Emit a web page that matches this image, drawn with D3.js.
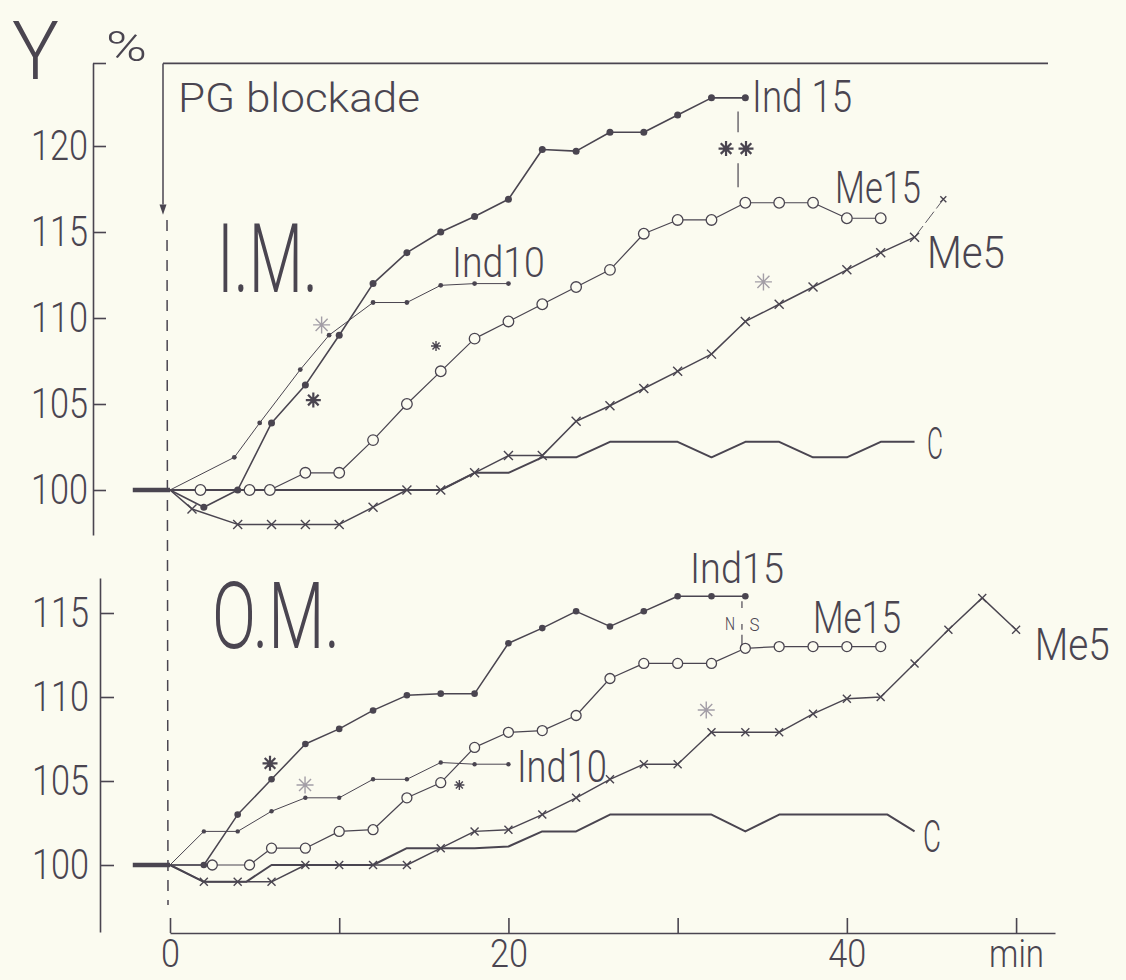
<!DOCTYPE html>
<html><head><meta charset="utf-8">
<script src="https://cdn.jsdelivr.net/npm/d3@7"></script>
<style>
html,body{margin:0;padding:0;background:#fbfbf0;}
svg{display:block;}
text{font-family:Roboto,"DejaVu Sans",sans-serif;font-weight:300;fill:#4a4550;}
</style></head><body>
<svg id="chart" width="1126" height="980"></svg>
<script>
// ---------- data ----------
const xTickValues = [0, 10, 20, 30, 40, 50];
const xTickLabels = ["0", "", "20", "", "40", "min"];
const imTicks = [100, 105, 110, 115, 120];
const omTicks = [100, 105, 110, 115];

// pre-blockade baseline
const baseT = [-2.2, 0];
const baseV = [100, 100];

// I.M. panel
const imInd15T = [0, 2, 4, 6, 8, 10, 12, 14, 16, 18, 20, 22, 24, 26, 28, 30, 32, 34];
const imInd15V = [100, 99, 100, 103.9, 106.1, 109, 112, 113.8, 115, 115.9, 116.9, 119.8, 119.7, 120.8, 120.8, 121.8, 122.8, 122.8];
const imInd10T = [0, 3.8, 5.3, 7.7, 9.4, 12, 14, 16, 18, 20];
const imInd10V = [100, 101.9, 103.9, 107, 109, 110.9, 110.9, 111.9, 112, 112];
const imMe15T = [0, 1.8, 4.7, 5.9, 8, 10, 12, 14, 16, 18, 20, 22, 24, 26, 28, 30, 32, 34, 36, 38, 40, 42];
const imMe15V = [100, 100, 100, 100, 101, 101, 102.9, 105, 106.9, 108.8, 109.8, 110.8, 111.8, 112.8, 114.9, 115.7, 115.7, 116.7, 116.7, 116.7, 115.8, 115.8];
const imMe5T = [0, 1.3, 4, 6, 8, 10, 12, 14, 16, 18, 20, 22, 24, 26, 28, 30, 32, 34, 36, 38, 40, 42, 44];
const imMe5V = [100, 98.9, 98, 98, 98, 98, 99, 100, 100, 101, 102, 102, 104, 104.9, 105.9, 106.9, 107.9, 109.8, 110.8, 111.8, 112.8, 113.8, 114.7];
const imMe5ExtT = [44, 45.7];
const imMe5ExtV = [114.7, 116.9];
const imCT = [0, 16, 18, 20, 22, 24, 26, 30, 32, 34, 36, 38, 40, 42, 44];
const imCV = [100, 100, 101, 101, 101.9, 101.9, 102.8, 102.8, 101.9, 102.8, 102.8, 101.9, 101.9, 102.8, 102.8];
const imStarT = [8.96, 8.47, 15.72, 35.07, 32.86, 34.04];
const imStarV = [109.6, 105.23, 108.37, 112.1, 119.85, 119.85];
const imStarTone = ["light", "dark", "small", "light", "dark", "dark"];

// O.M. panel
const omInd15T = [0, 2, 4, 6, 8, 10, 12, 14, 16, 18, 20, 22, 24, 26, 28, 30, 32, 34];
const omInd15V = [100, 100, 103, 105.1, 107.2, 108.1, 109.2, 110.1, 110.2, 110.2, 113.2, 114.1, 115.1, 114.2, 115.1, 116, 116, 116];
const omInd10T = [0, 2, 4, 6, 8, 10, 12, 14, 16, 18, 20];
const omInd10V = [100, 102, 102, 103.2, 104, 104, 105.1, 105.1, 106.1, 106, 106];
const omMe15T = [0, 2.5, 4.7, 6, 8, 10, 12, 14, 16, 18, 20, 22, 24, 26, 28, 30, 32, 34, 36, 38, 40, 42];
const omMe15V = [100, 100, 100, 101, 101, 102, 102.1, 104, 104.9, 107, 107.9, 108, 108.9, 111.1, 112, 112, 112, 112.9, 113, 113, 113, 113];
const omMe5T = [0, 2, 4, 6, 8, 10, 12, 14, 16, 18, 20, 22, 24, 26, 28, 30, 32, 34, 36, 38, 40, 42, 44, 46, 48, 50];
const omMe5V = [100, 99, 99, 99, 100, 100, 100, 100, 101, 102, 102.1, 103, 104, 105.1, 106, 106, 107.9, 107.9, 107.9, 109, 109.9, 110, 112, 114, 115.9, 114];
const omCT = [0, 2, 4.5, 6, 8, 10, 12, 14, 16, 18, 20, 22, 24, 26, 28, 30, 32, 34, 36, 38, 40, 42.4, 44];
const omCV = [100, 99, 99, 100, 100, 100, 100, 101, 101, 101, 101.1, 102, 102, 103, 103, 103, 103, 102, 103, 103, 103, 103, 102];
const omStarT = [5.91, 7.98, 17.1, 31.69];
const omStarV = [106.05, 104.76, 104.76, 109.23];
const omStarTone = ["dark", "light", "small", "light"];

// ---------- drawing ----------
const ink = "#4a4550", lightInk = "#a39ea6", bg = "#fbfbf0";
const svg = d3.select("#chart");
svg.append("rect").attr("width", 1126).attr("height", 980).attr("fill", bg);

const x = d3.scaleLinear().domain([0, 52.3]).range([170, 1055]);
const yIM = d3.scaleLinear().domain([100 - 45 / 17.2, 100 + 427 / 17.2]).range([535, 63]);
const yOM = d3.scaleLinear().domain([100 - 67 / 16.8, 100 + 287 / 16.8]).range([932, 578]);

function txt(g, px, py, s, size, len, weight) {
  const t = g.append("text").attr("x", px).attr("y", py).attr("font-size", size).text(s);
  if (len) t.attr("textLength", len).attr("lengthAdjust", "spacingAndGlyphs");
  if (weight) t.attr("font-weight", weight);
  return t;
}
function styleAxis(g, size) {
  g.attr("font-size", null).attr("font-family", null).attr("color", ink);
  g.select(".domain").attr("stroke-width", 1.6);
  g.selectAll(".tick line").attr("stroke-width", 1.6);
  g.selectAll(".tick text").attr("font-size", size)
    .each(function () {
      const s = this.textContent;
      if (s) d3.select(this).attr("textLength", s === "min" ? 55 : s.length * 19).attr("lengthAdjust", "spacingAndGlyphs");
    });
}

// y axes
const gIM = svg.append("g").attr("transform", "translate(93,0)")
  .call(d3.axisLeft(yIM).tickValues([...imTicks, yIM.domain()[1]])
    .tickFormat(d => imTicks.includes(d) ? String(d) : "")
    .tickSizeInner(-13).tickSizeOuter(0).tickPadding(5));
styleAxis(gIM, 42);
const gOM = svg.append("g").attr("transform", "translate(100,0)")
  .call(d3.axisLeft(yOM).tickValues(omTicks).tickFormat(d => String(d))
    .tickSizeInner(-14).tickSizeOuter(0).tickPadding(11));
styleAxis(gOM, 42);
// x axis
const gX = svg.append("g").attr("transform", "translate(0,933)")
  .call(d3.axisBottom(x).tickValues(xTickValues).tickFormat((d, i) => xTickLabels[i])
    .tickSizeInner(-15).tickSizeOuter(0).tickPadding(6));
styleAxis(gX, 39);

// titles
txt(svg, 12, 79, "Y", 82, 47, 400);
txt(svg, 106, 61, "%", 42, 41, 300);
txt(svg, 178, 112, "PG blockade", 41, 242, 300);
txt(svg, 217, 292, "I.M.", 96, 101, 400);
txt(svg, 212, 648, "O.M.", 92, 128, 400);

// PG blockade frame + arrow + dashed line
svg.append("path").attr("d", `M${x(0) - 7},${yIM(124.8)}H1048`).attr("stroke", ink).attr("stroke-width", 1.8).attr("fill", "none");
svg.append("path").attr("d", `M${x(0) - 7},${yIM(124.8)}V${yIM(116.6)}`).attr("stroke", ink).attr("stroke-width", 1.5).attr("fill", "none");
svg.append("path").attr("d", `M${x(0) - 10.5},${yIM(116.6)}L${x(0) - 3.5},${yIM(116.6)}L${x(0) - 7},${yIM(116.0)}Z`).attr("fill", ink);
svg.append("line").attr("x1", x(0) - 3).attr("x2", x(0) - 2).attr("y1", yIM(115.7)).attr("y2", 905)
  .attr("stroke", ink).attr("stroke-width", 1.5).attr("stroke-dasharray", "11,9");

function drawPanel(y, series, starT, starV, starTone) {
  const g = svg.append("g");
  const line = d3.line().x(d => x(d[0])).y(d => y(d[1]));
  // baseline bar
  g.append("path").attr("d", line(d3.zip(baseT, baseV))).attr("stroke", ink).attr("stroke-width", 4.5).attr("fill", "none");
  series.forEach(s => {
    const pts = d3.zip(s.t, s.v);
    g.append("path").attr("d", line(pts)).attr("fill", "none").attr("stroke", ink)
      .attr("stroke-width", s.sw).attr("stroke-linejoin", "round").attr("stroke-dasharray", s.dash || null);
    const mk = pts.slice(1);
    if (s.mark === "dot") {
      g.selectAll(null).data(mk).join("circle").attr("cx", d => x(d[0])).attr("cy", d => y(d[1]))
        .attr("r", s.r).attr("fill", ink);
    } else if (s.mark === "ring") {
      g.selectAll(null).data(mk).join("circle").attr("cx", d => x(d[0])).attr("cy", d => y(d[1]))
        .attr("r", s.r).attr("fill", bg).attr("stroke", ink).attr("stroke-width", 1.3);
    } else if (s.mark === "cross") {
      const r = s.r;
      g.selectAll(null).data(mk).join("path")
        .attr("d", d => `M${x(d[0]) - r},${y(d[1]) - r}L${x(d[0]) + r},${y(d[1]) + r}M${x(d[0]) - r},${y(d[1]) + r}L${x(d[0]) + r},${y(d[1]) - r}`)
        .attr("stroke", ink).attr("stroke-width", 1.4).attr("fill", "none");
    }
  });
  // asterisks
  const stars = d3.zip(starT, starV, starTone);
  g.selectAll(null).data(stars).join("path")
    .attr("d", d => {
      const r = d[2] === "small" ? 5 : (d[2] === "light" ? 8.5 : 7.5);
      const cx = x(d[0]), cy = y(d[1]);
      return [0, 45, 90, 135].map(a => {
        const c = Math.cos(a * Math.PI / 180) * r, s = Math.sin(a * Math.PI / 180) * r;
        return `M${cx - c},${cy - s}L${cx + c},${cy + s}`;
      }).join("");
    })
    .attr("stroke", d => d[2] === "light" ? lightInk : ink)
    .attr("stroke-width", d => d[2] === "dark" ? 2.2 : 1.4).attr("fill", "none");
  return g;
}

drawPanel(yIM, [
  {t: imCT, v: imCV, mark: null, sw: 2.0},
  {t: imMe5T, v: imMe5V, mark: "cross", r: 4.5, sw: 1.5},
  {t: imMe5ExtT, v: imMe5ExtV, mark: "cross", r: 3, sw: 0.9, dash: "14,4"},
  {t: imMe15T, v: imMe15V, mark: "ring", r: 5.3, sw: 1.2},
  {t: imInd10T, v: imInd10V, mark: "dot", r: 2.4, sw: 1.0},
  {t: imInd15T, v: imInd15V, mark: "dot", r: 3.5, sw: 1.6}
], imStarT, imStarV, imStarTone);

drawPanel(yOM, [
  {t: omCT, v: omCV, mark: null, sw: 2.0},
  {t: omMe5T, v: omMe5V, mark: "cross", r: 4, sw: 1.4},
  {t: omMe15T, v: omMe15V, mark: "ring", r: 5, sw: 1.2},
  {t: omInd10T, v: omInd10V, mark: "dot", r: 2.2, sw: 1.0},
  {t: omInd15T, v: omInd15V, mark: "dot", r: 3.3, sw: 1.5}
], omStarT, omStarV, omStarTone);

// significance connectors
[[122.0, 120.8], [119.0, 117.6]].forEach(s => {
  svg.append("line").attr("x1", x(33.57)).attr("x2", x(33.57)).attr("y1", yIM(s[0])).attr("y2", yIM(s[1]))
    .attr("stroke", ink).attr("stroke-width", 1.2);
});
[[115.7, 115.3], [114.35, 114.0], [113.7, 113.1]].forEach(s => {
  svg.append("line").attr("x1", x(33.8)).attr("x2", x(33.8)).attr("y1", yOM(s[0])).attr("y2", yOM(s[1]))
    .attr("stroke", ink).attr("stroke-width", 1.2);
});
txt(svg, x(32.8), yOM(114.0), "N", 18, 10, 300);
txt(svg, x(34.25), yOM(113.95), "S", 19, 10, 300);

// series labels
[
  {s: "Ind 15", t: 34.4, v: 121.98, size: 45, len: 100},
  {s: "Ind10", t: 16.66, v: 112.38, size: 43, len: 93},
  {s: "Me15", t: 39.3, v: 116.7, size: 44, len: 86},
  {s: "Me5", t: 44.73, v: 112.9, size: 44, len: 78},
  {s: "C", t: 44.73, v: 101.8, size: 44, len: 16}
].forEach(l => txt(svg, x(l.t), yIM(l.v), l.s, l.size, l.len, 300));
[
  {s: "Ind15", t: 30.73, v: 116.79, size: 43, len: 94},
  {s: "Ind10", t: 20.5, v: 104.94, size: 44, len: 90},
  {s: "Me15", t: 38.0, v: 113.81, size: 44, len: 88},
  {s: "Me5", t: 51.1, v: 112.2, size: 44, len: 75},
  {s: "C", t: 44.5, v: 100.77, size: 44, len: 18}
].forEach(l => txt(svg, x(l.t), yOM(l.v), l.s, l.size, l.len, 300));
</script>
</body></html>
